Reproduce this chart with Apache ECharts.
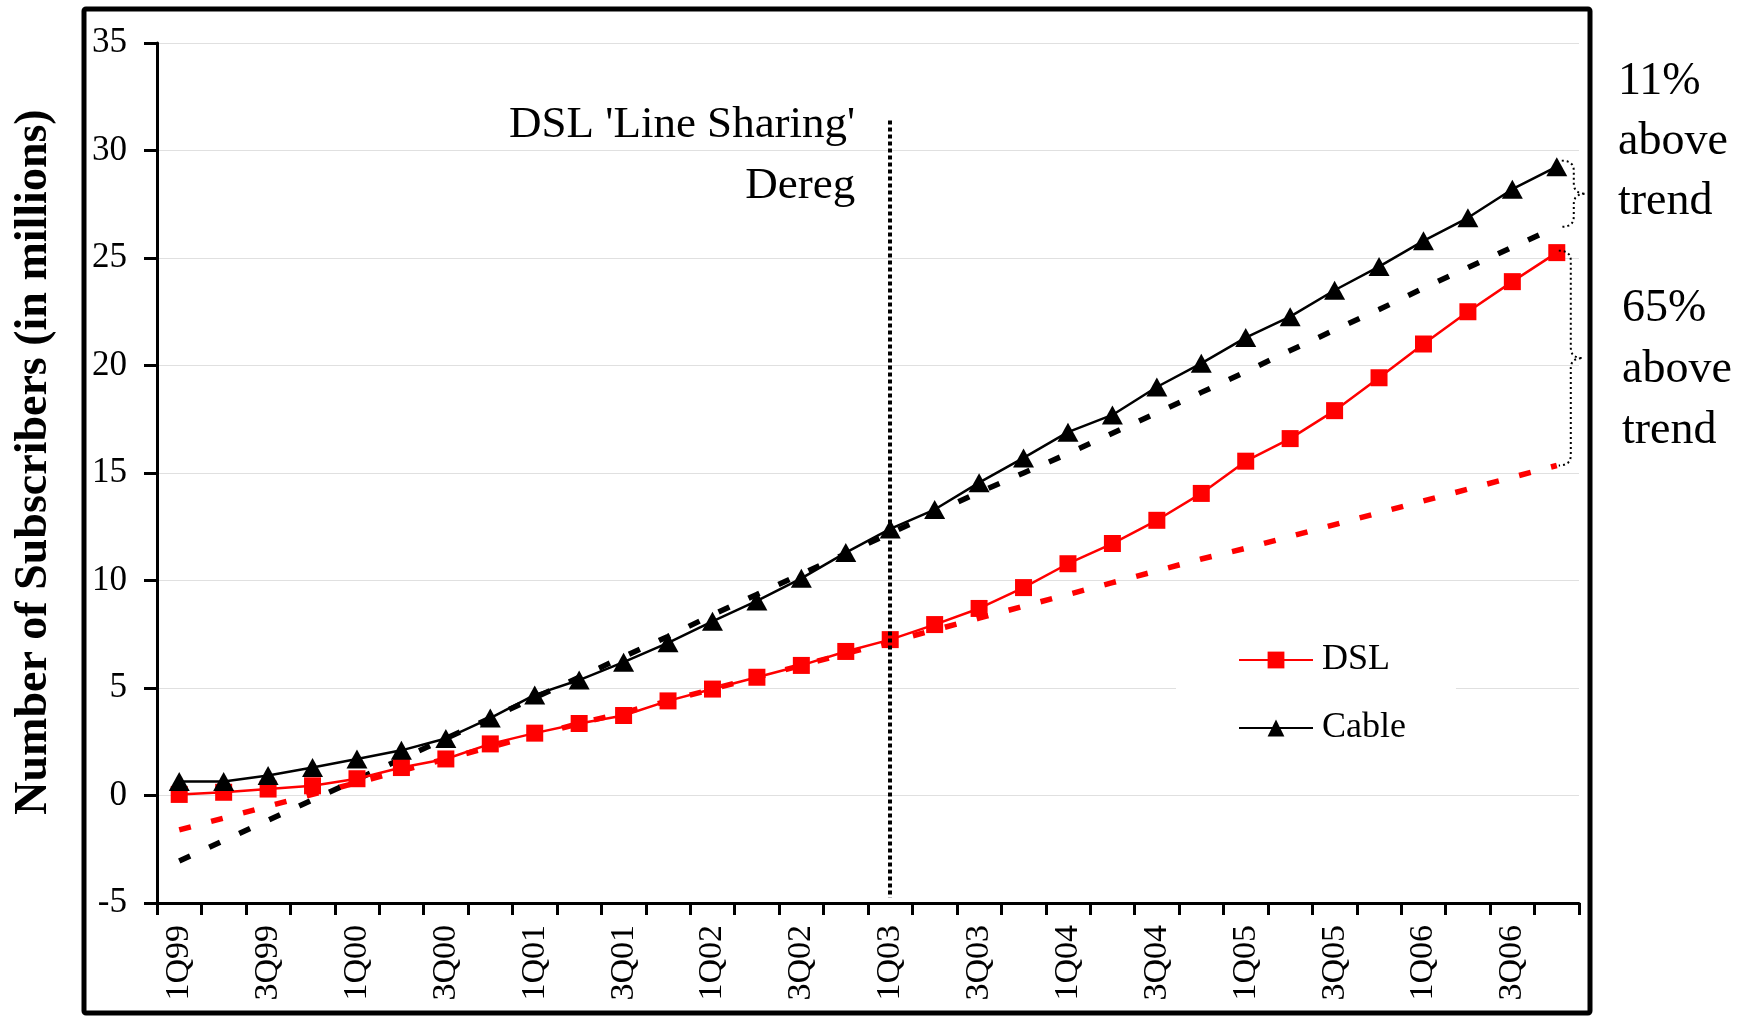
<!DOCTYPE html>
<html>
<head>
<meta charset="utf-8">
<script src="https://cdn.jsdelivr.net/npm/echarts@6.0.0/dist/echarts.min.js"></script>
<style>
html,body{margin:0;padding:0;background:#fff;}
#chart{width:1750px;height:1016px;}
</style>
</head>
<body>
<div id="chart"></div>
<script>
// ---------------- data ----------------
const quarters = [
  '1Q99','2Q99','3Q99','4Q99','1Q00','2Q00','3Q00','4Q00',
  '1Q01','2Q01','3Q01','4Q01','1Q02','2Q02','3Q02','4Q02',
  '1Q03','2Q03','3Q03','4Q03','1Q04','2Q04','3Q04','4Q04',
  '1Q05','2Q05','3Q05','4Q05','1Q06','2Q06','3Q06','4Q06'
];
const dsl = [0.05,0.15,0.3,0.45,0.78,1.3,1.7,2.4,2.9,3.35,3.72,4.4,4.95,5.5,6.05,6.7,
             7.25,7.95,8.7,9.67,10.78,11.72,12.8,14.05,15.55,16.6,17.9,19.43,21.0,22.5,23.9,25.25];
const cable = [0.65,0.65,0.93,1.3,1.7,2.1,2.65,3.6,4.68,5.37,6.2,7.1,8.1,9.05,10.1,11.3,
               12.4,13.3,14.55,15.7,16.9,17.7,19.0,20.1,21.3,22.27,23.5,24.6,25.8,26.87,28.2,29.25];
const dslTrend = [-1.6,-1.05,-0.5,0.05,0.6,1.15,1.7,2.25,2.8,3.35,3.85,4.4,4.95,5.5,6.05,6.6,
                  7.15,7.7,8.25,8.8,9.35,9.9,10.45,11.0,11.5,12.05,12.6,13.15,13.7,14.25,14.8,15.35];
const cableTrend = [-3.05,-2.1,-1.15,-0.2,0.75,1.7,2.65,3.6,4.55,5.5,6.45,7.4,8.4,9.35,10.3,11.25,
                    12.2,13.15,14.1,15.0,15.9,16.85,17.8,18.75,19.7,20.7,21.65,22.6,23.6,24.55,25.5,26.45];
const deregQuarter = '1Q03';
const deregSpan = [31.4, -4.75];
const yMin = -5, yMax = 35, yStep = 5;
const seriesNames = ['DSL', 'Cable'];
const deregText = ["DSL 'Line Sharing'", 'Dereg'];
const cableNote = ['11%', 'above', 'trend'];
const dslNote = ['65%', 'above', 'trend'];
const yTitle = 'Number of Subscribers (in millions)';

// ---------------- chart ----------------
const FONT = '"Liberation Serif", "Times New Roman", serif';
const chart = echarts.init(document.getElementById('chart'), null, {renderer: 'canvas'});

const option = {
  animation: false,
  backgroundColor: '#fff',
  grid: {left: 157, top: 43, right: 171, bottom: 113, containLabel: false},
  legend: {
    data: seriesNames,
    orient: 'vertical',
    left: 1176, top: 612,
    padding: [30, 50, 30, 62],
    backgroundColor: '#fff',
    itemWidth: 74, itemHeight: 21, itemGap: 32,
    textStyle: {fontSize: 36, fontFamily: FONT, color: '#000', padding: [0, 0, 0, 4]}
  },
  xAxis: {
    type: 'category',
    data: quarters,
    boundaryGap: true,
    axisLine: {onZero: false, lineStyle: {color: '#000', width: 3}},
    axisTick: {show: true, interval: 0, length: 12, lineStyle: {color: '#000', width: 3}},
    axisLabel: {interval: 1, rotate: 90, fontSize: 34, margin: 22, color: '#000', fontFamily: FONT},
    splitLine: {show: false}
  },
  yAxis: {
    type: 'value',
    min: yMin, max: yMax, interval: yStep,
    name: yTitle,
    nameLocation: 'middle',
    nameRotate: 90,
    nameGap: 100,
    nameTextStyle: {fontSize: 46, fontWeight: 'bold', fontFamily: FONT, color: '#000', padding: [0, 0, 0, 22]},
    axisLine: {show: true, lineStyle: {color: '#000', width: 3}},
    axisTick: {show: true, length: 13, lineStyle: {color: '#000', width: 3}},
    axisLabel: {fontSize: 35, margin: 30, color: '#000', fontFamily: FONT},
    splitLine: {show: true, lineStyle: {color: '#e0e0e0', width: 1.2}}
  },
  series: [
    {
      name: 'DSL trend', type: 'line', data: dslTrend, symbol: 'none', z: 2,
      lineStyle: {color: '#ff0000', width: 5.5, type: [12, 21]}, silent: true
    },
    {
      name: 'Cable trend', type: 'line', data: cableTrend, symbol: 'none', z: 2,
      lineStyle: {color: '#000', width: 5.5, type: [12, 21]}, silent: true
    },
    {
      name: 'DSL', type: 'line', data: dsl, z: 3,
      symbol: 'rect', symbolSize: 17,
      itemStyle: {color: '#ff0000'},
      lineStyle: {color: '#ff0000', width: 2.5},
      markLine: {
        silent: true, symbol: 'none', label: {show: false},
        lineStyle: {color: '#000', width: 4, type: [4, 3]},
        data: [[{coord: [deregQuarter, deregSpan[0]]}, {coord: [deregQuarter, deregSpan[1]]}]]
      }
    },
    {
      name: 'Cable', type: 'line', data: cable, z: 3,
      symbol: 'triangle', symbolSize: [21, 19],
      itemStyle: {color: '#000'},
      lineStyle: {color: '#000', width: 2.5}
    }
  ]
};
chart.setOption(option);

// ---------------- annotations ----------------
function bracePoints(x0, y0, y1, w) {
  const s = x0 + w * 0.5, tip = x0 + w, ym = (y0 + y1) / 2;
  const r = Math.min(10, (y1 - y0) / 6);
  const pts = [];
  function quad(p0, c, p1) {
    for (let k = 0; k <= 8; k++) {
      const t = k / 8;
      pts.push([(1-t)*(1-t)*p0[0] + 2*(1-t)*t*c[0] + t*t*p1[0],
                (1-t)*(1-t)*p0[1] + 2*(1-t)*t*c[1] + t*t*p1[1]]);
    }
  }
  quad([x0, y0], [s, y0], [s, y0 + r]);
  quad([s, ym - r], [s, ym], [tip, ym]);
  quad([tip, ym], [s, ym], [s, ym + r]);
  quad([s, y1 - r], [s, y1], [x0, y1]);
  return pts;
}
const last = quarters.length - 1;
const pCable = chart.convertToPixel({seriesIndex: 3}, [quarters[last], cable[last]]);
const pCableT = chart.convertToPixel({seriesIndex: 1}, [quarters[last], cableTrend[last]]);
const pDsl = chart.convertToPixel({seriesIndex: 2}, [quarters[last], dsl[last]]);
const pDslT = chart.convertToPixel({seriesIndex: 0}, [quarters[last], dslTrend[last]]);
const pDereg = chart.convertToPixel({seriesIndex: 2}, [deregQuarter, deregSpan[0]]);

const braceStyle = {stroke: '#000', lineWidth: 2, lineDash: [2, 3], fill: null};
function textEl(str, x, y, align, size, lh) {
  return {
    type: 'text', z: 10,
    style: {
      text: str, x: x, y: y,
      align: align, textAlign: align,
      verticalAlign: 'top', textVerticalAlign: 'top',
      font: size + 'px ' + FONT, lineHeight: lh, fill: '#000'
    }
  };
}
chart.setOption({
  graphic: [
    {type: 'rect', z: 20, shape: {x: 84, y: 9, width: 1506, height: 1004, r: 2},
     style: {stroke: '#000', lineWidth: 5, fill: null}, silent: true},
    {type: 'polyline', z: 10, shape: {points: bracePoints(pCable[0] + 5, pCable[1] - 6, pCableT[1], 24)}, style: braceStyle},
    {type: 'polyline', z: 10, shape: {points: bracePoints(pDsl[0] + 2, pDsl[1] - 2, pDslT[1], 24)}, style: braceStyle},
    textEl(deregText[0], pDereg[0] - 35, 97, 'right', 45, 56),
    textEl(deregText[1], pDereg[0] - 35, 158, 'right', 45, 56),
    textEl(cableNote.join('\n'), 1618, 52, 'left', 46, 60),
    textEl(dslNote.join('\n'), 1622, 278, 'left', 46, 61)
  ]
});
</script>
</body>
</html>
